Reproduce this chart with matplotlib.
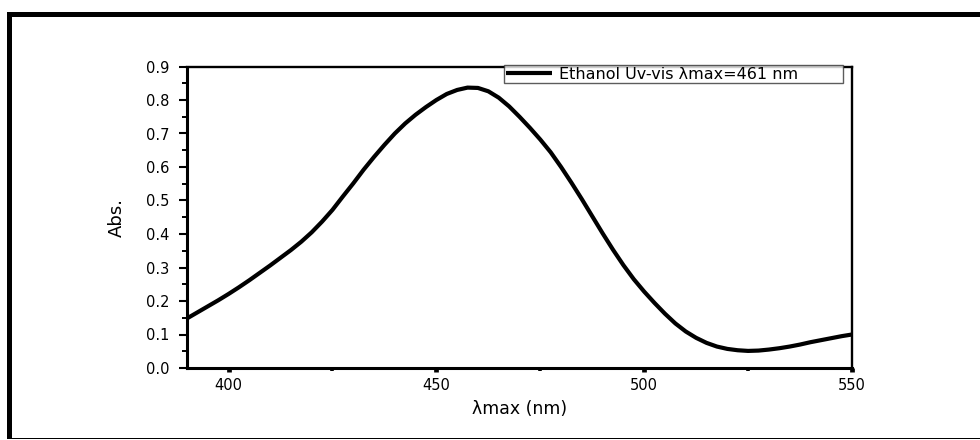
import numpy as np
import matplotlib
matplotlib.use("Agg")
import matplotlib.pyplot as plt
from matplotlib.patches import Rectangle
from matplotlib.ticker import MultipleLocator, FormatStrFormatter

plt.rcParams['font.family'] = ['DejaVu Sans']

# absorption spectrum of the dye in ethanol, 2.5 nm steps
wavelength = np.arange(390, 550.1, 2.5)
absorbance = [0.148, 0.166, 0.184, 0.202, 0.221, 0.241, 0.262, 0.284,
              0.306, 0.329, 0.352, 0.377, 0.405, 0.437, 0.472, 0.512,
              0.551, 0.592, 0.630, 0.666, 0.700, 0.730, 0.756, 0.779,
              0.800, 0.818, 0.830, 0.837, 0.836, 0.826, 0.807, 0.781,
              0.750, 0.717, 0.682, 0.644, 0.600, 0.553, 0.504, 0.453,
              0.402, 0.353, 0.307, 0.265, 0.228, 0.194, 0.162, 0.133,
              0.109, 0.090, 0.075, 0.064, 0.057, 0.053, 0.051, 0.052,
              0.055, 0.059, 0.064, 0.070, 0.077, 0.083, 0.089, 0.095,
              0.100]
legend_label = "Ethanol Uv-vis \u03bbmax=461 nm"

W, H = 980, 440
fig = plt.figure(figsize=(W / 100, H / 100), dpi=100)
ax = fig.add_axes([187 / W, 1 - 368 / H, 665 / W, 301.5 / H])

ax.plot(wavelength, absorbance, color="black", lw=3.0,
        solid_joinstyle="round", solid_capstyle="butt", label=legend_label)

ax.set_xlim(390, 550)
ax.set_ylim(0, 0.9)
ax.xaxis.set_major_locator(MultipleLocator(50))
ax.xaxis.set_minor_locator(MultipleLocator(25))
ax.yaxis.set_major_locator(MultipleLocator(0.1))
ax.yaxis.set_minor_locator(MultipleLocator(0.05))
ax.yaxis.set_major_formatter(FormatStrFormatter("%.1f"))

ax.tick_params(axis="x", which="major", direction="out", length=3.2,
               width=3.4, labelsize=10.5, pad=4)
ax.tick_params(axis="x", which="minor", direction="out", length=1.8,
               width=2.6)
ax.tick_params(axis="y", which="major", direction="out", length=5.8,
               width=1.5, labelsize=10.5, pad=7)
ax.tick_params(axis="y", which="minor", direction="out", length=3.6,
               width=1.4)

for side in ["left", "bottom"]:
    ax.spines[side].set_linewidth(2.2)
for side in ["top", "right"]:
    ax.spines[side].set_linewidth(1.7)

ax.set_xlabel("\u03bbmax (nm)", fontsize=12.5, labelpad=5)
ax.set_ylabel("Abs.", fontsize=13, labelpad=14)

leg = ax.legend(loc="upper left", bbox_to_anchor=(0.477, 0.938, 0.51, 0.066),
                mode="expand", borderaxespad=0, fontsize=11.5, frameon=True,
                fancybox=False, handlelength=2.9, handletextpad=0.45,
                borderpad=0.1)
leg.get_frame().set_edgecolor("#333333")
leg.get_frame().set_linewidth(1.0)

# outer frame: heavy top and left edges, thin base line
fig.add_artist(Rectangle((7 / W, 1 - 17 / H), 1 - 7 / W, 5 / H,
                         transform=fig.transFigure, color="black", lw=0))
fig.add_artist(Rectangle((7 / W, 1 - 438 / H), 5 / W, 426 / H,
                         transform=fig.transFigure, color="black", lw=0))
fig.add_artist(Rectangle((7 / W, 1 - 439 / H), 1 - 7 / W, 1.5 / H,
                         transform=fig.transFigure, color="black", lw=0))

fig.savefig("out.png", dpi=100)
